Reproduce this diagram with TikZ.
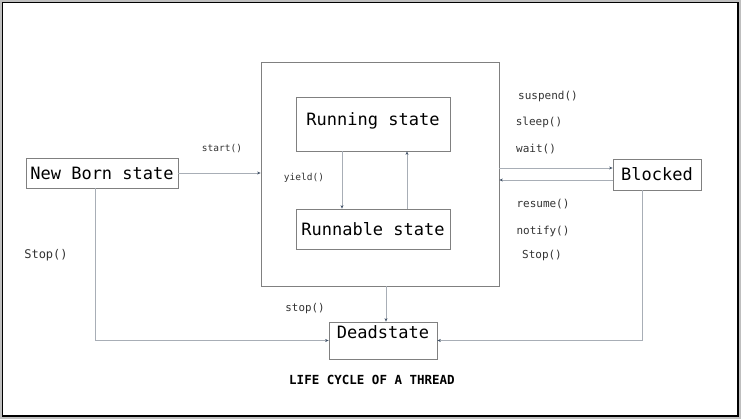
\documentclass[tikz,border=0pt]{standalone}
\usepackage{fontspec}
\setmonofont{DejaVu Sans Mono}
\usetikzlibrary{arrows.meta,positioning}
\definecolor{boxgray}{HTML}{808080}
\definecolor{linegray}{HTML}{A8AEB6}
\definecolor{tipblue}{HTML}{44546A}

\begin{document}
\begin{tikzpicture}[x=1pt,y=-1pt,
  state/.style={draw=boxgray,line width=0.8pt,fill=white,inner sep=0pt,
    font=\ttfamily\fontsize{17}{17}\selectfont},
  call/.style={inner sep=0pt,text=black!80,font=\ttfamily\fontsize{#1}{#1}\selectfont},
  call/.default=11,
  flow/.style={linegray,line width=0.9pt,-{Stealth[length=3.5pt,width=3pt,color=tipblue]}}]
  \useasboundingbox (0,0) rectangle (741,419);
  \fill[black!25] (0,0) rectangle (741,419);
  \draw[line width=1.2pt,fill=white] (2.5,2.5) rectangle (738,416);

  \node[state,minimum width=238pt,minimum height=224pt] (thread) at (380,174) {};
  \node[state,minimum width=154pt,minimum height=54pt,text height=12pt,text depth=8pt] (running) at (373,124) {Running state};
  \node[state,minimum width=154pt,minimum height=40pt] (runnable) at (373,229) {Runnable state};
  \node[state,minimum width=152pt,minimum height=30pt] (newborn) at (102,173) {New Born state};
  \node[state,minimum width=88pt,minimum height=31pt] (blocked) at (657,174.5) {Blocked};
  \node[state,minimum width=108pt,inner ysep=5pt,text height=11pt,text depth=16pt] (dead) at (383,340.5) {Deadstate};

  \node[call=9.5] (start) at (222,149) {start()};
  \node[call=9.5] (yield) at (304,178) {yield()};
  \node[call] (suspend) at (548,96) {suspend()};
  \node[call] (sleep) at (539,122) {sleep()};
  \node[call] (wait) at (536,149) {wait()};
  \node[call] (resume) at (543,204) {resume()};
  \node[call] (notify) at (543,231) {notify()};
  \node[call] (stopb) at (542,255) {Stop()};
  \node[call=12] (stopn) at (46,255) {Stop()};
  \node[call=10.8] (stopt) at (305,309) {stop()};
  \node[font=\ttfamily\bfseries\fontsize{12.5}{12.5}\selectfont] (title) at (372,380) {LIFE CYCLE OF A THREAD};

  \draw[flow] (newborn.east) -- (newborn.east -| thread.west);
  \draw[flow] ([xshift=-31pt]running.south) -- ([xshift=-31pt]running.south |- runnable.north);
  \draw[flow] ([xshift=34pt]runnable.north) -- ([xshift=34pt]runnable.north |- running.south);
  \draw[flow] ([yshift=6.5pt]blocked.west -| thread.east) -- ([yshift=6.5pt]blocked.west);
  \draw[flow] ([yshift=-5.5pt]blocked.west) -- ([yshift=-5.5pt]blocked.west -| thread.east);
  \draw[flow] ([xshift=6pt]thread.south) -- ([xshift=6pt]thread.south |- dead.north);
  \draw[flow] ([xshift=-7pt]newborn.south) |- (dead.west);
  \draw[flow] ([xshift=-15pt]blocked.south) |- (dead.east);
\end{tikzpicture}
\end{document}
